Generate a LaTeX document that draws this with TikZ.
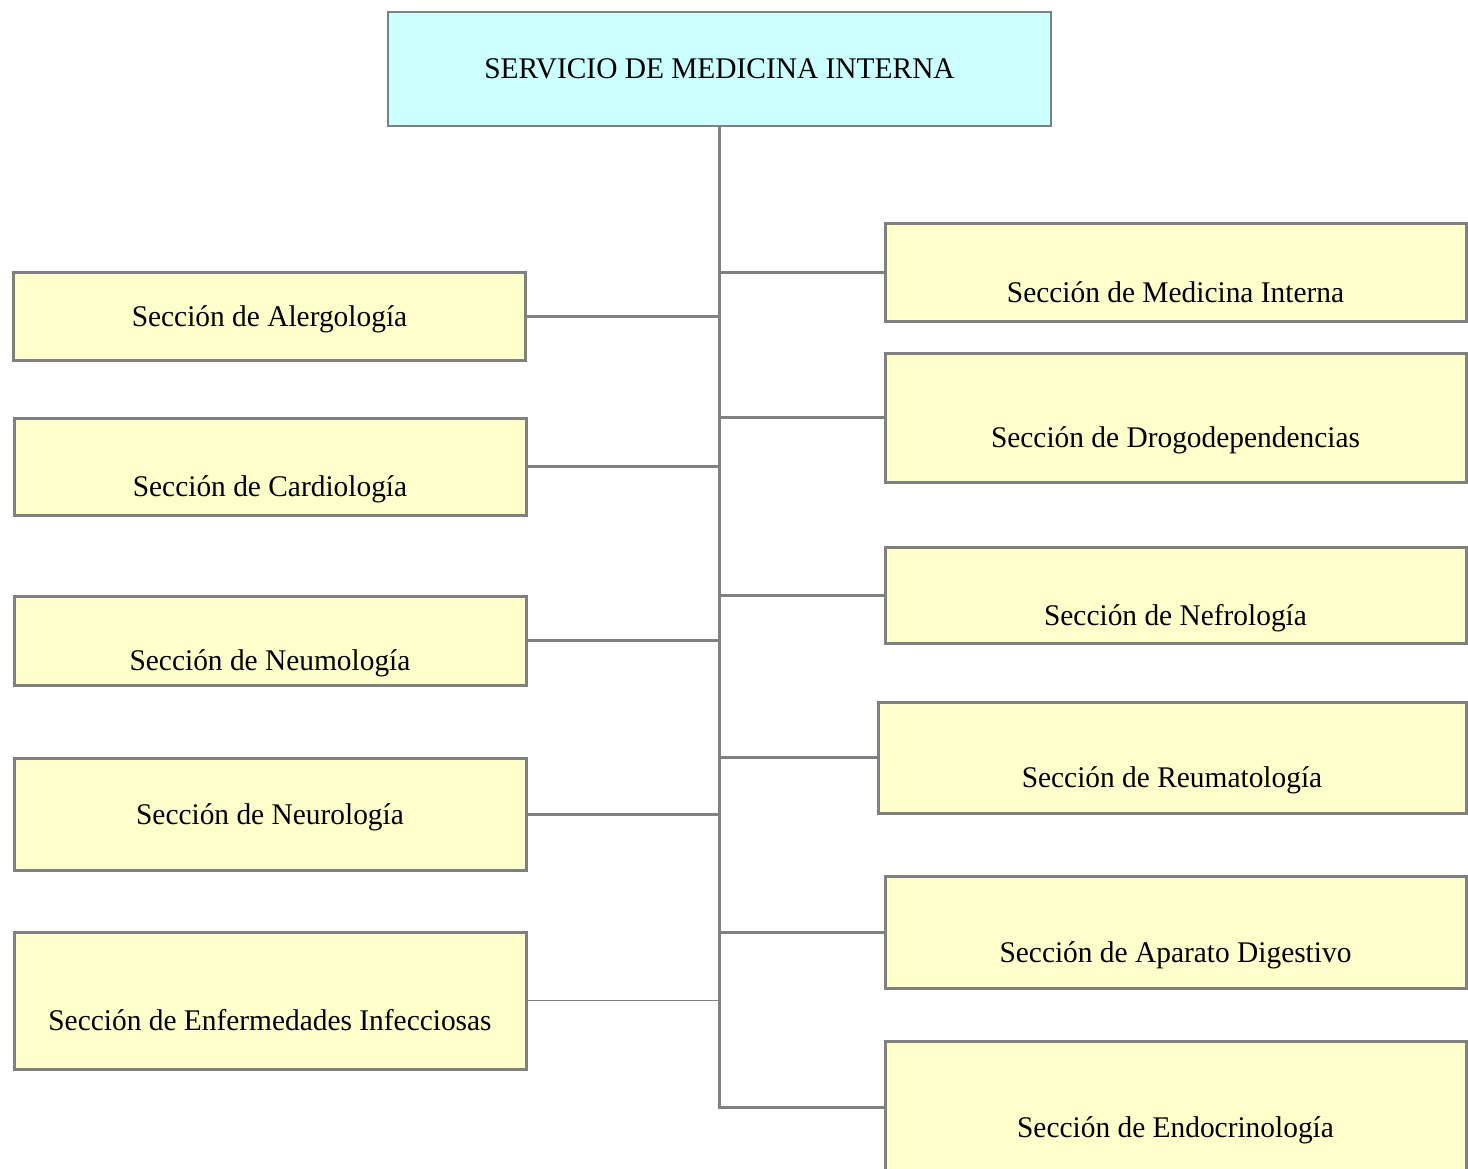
\documentclass[tikz,border=0pt]{standalone}
\usepackage{fontspec}
\setmainfont[FakeStretch=0.98]{Liberation Serif}
\usetikzlibrary{positioning}
\definecolor{boxyellow}{HTML}{FFFFCC}
\definecolor{boxcyan}{HTML}{CCFFFF}
\definecolor{linegray}{HTML}{808080}

\begin{document}
\begin{tikzpicture}[x=0.5pt, y=-0.5pt, font=\fontsize{15}{18}\selectfont]
        \tikzstyle{section} = [draw=linegray, line width=1.5pt, fill=boxyellow,
            inner sep=0pt, text height=14pt, text depth=4pt]
        \tikzstyle{low} = [text height=34pt]
        \tikzstyle{leftbox} = [section, minimum width=256pt]
        \tikzstyle{rightbox} = [section, minimum width=290.5pt]
        \tikzstyle{link} = [draw=linegray, line width=1.5pt]
        \useasboundingbox (0,0) rectangle (1468,1168);

        % jefatura
        \node[draw=linegray, line width=1pt, fill=boxcyan, minimum width=331.5pt,
            minimum height=57pt] (servicio) at (719.5,69) {SERVICIO DE MEDICINA INTERNA};

        % secciones de la izquierda
        \node[leftbox, minimum height=44pt] (alergo) at (269.5,316) {Sección de Alergología};
        \node[leftbox, low, minimum height=48.5pt] (cardio) at (270,466.5) {Sección de Cardiología};
        \node[leftbox, low, minimum height=44.5pt] (neumo) at (270,640.5) {Sección de Neumología};
        \node[leftbox, minimum height=56pt] (neuro) at (270,814) {Sección de Neurología};
        \node[leftbox, low, minimum height=68.5pt] (infec) at (270,1000.5) {Sección de Enfermedades Infecciosas};

        % secciones de la derecha
        \node[rightbox, low, minimum height=49pt] (medint) at (1175.5,272) {Sección de Medicina Interna};
        \node[rightbox, low, minimum height=64.5pt] (drogo) at (1175.5,417.5) {Sección de Drogodependencias};
        \node[rightbox, low, minimum height=48pt] (nefro) at (1175.5,595) {Sección de Nefrología};
        \node[rightbox, low, minimum width=294pt, minimum height=55.5pt] (reuma) at (1172,757.5) {Sección de Reumatología};
        \node[rightbox, low, minimum height=56pt] (digest) at (1175.5,932) {Sección de Aparato Digestivo};
        \node[rightbox, low, minimum height=66pt] (endo) at (1175.5,1107) {Sección de Endocrinología};

        % tronco y ramas
        \draw[link] (servicio.south) -- (servicio.south |- endo.west) -- (endo.west);
        \foreach \s in {medint, drogo, nefro, reuma, digest}
            \draw[link] (servicio.south |- \s.west) -- (\s.west);
        \foreach \s in {alergo, cardio, neumo, neuro}
            \draw[link] (\s.east) -- (\s.east -| servicio.south);
        \draw[draw=linegray, line width=0.75pt] (infec.east) -- (infec.east -| servicio.south);
    \end{tikzpicture}
\end{document}
